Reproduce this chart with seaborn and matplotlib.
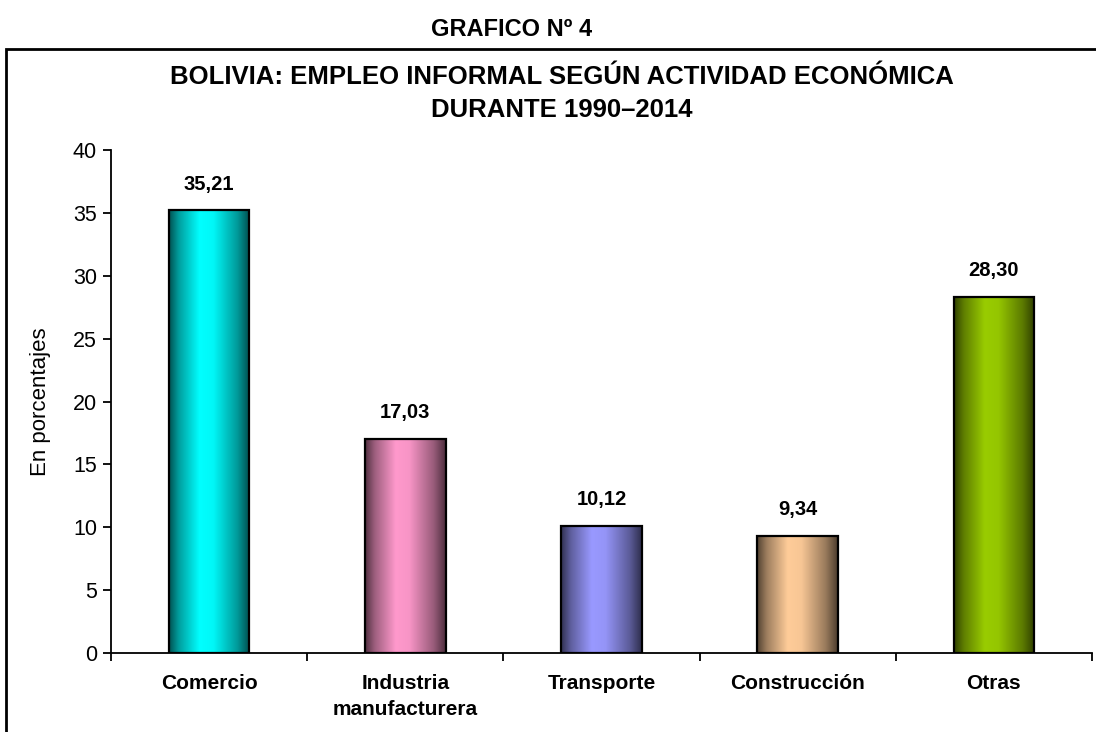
import numpy as np
import pandas as pd
import seaborn as sns
import matplotlib.pyplot as plt
import matplotlib.colors as mcolors
from matplotlib.patches import Rectangle

categorias = ['Comercio', 'Industria\nmanufacturera', 'Transporte', 'Construcción', 'Otras']
porcentajes = [35.21, 17.03, 10.12, 9.34, 28.30]
colores = ['#00FFFF', '#FF99CC', '#9999FF', '#FFCC99', '#99CC00']
yticks = [0, 5, 10, 15, 20, 25, 30, 35, 40]

sns.set_theme(style='white')
plt.rcParams['font.family'] = ['Liberation Sans', 'DejaVu Sans']
for k in ['text.color', 'axes.labelcolor', 'xtick.color', 'ytick.color']:
    plt.rcParams[k] = 'black'

df = pd.DataFrame({'Actividad': categorias, 'Porcentaje': porcentajes})

fig = plt.figure(figsize=(10.96, 7.32), dpi=100)
ax = fig.add_axes([111 / 1096, 1 - 653 / 732, (1092 - 111) / 1096, (653 - 150) / 732])

sns.barplot(data=df, x='Actividad', y='Porcentaje', hue='Actividad', palette=colores,
            legend=False, width=0.41, edgecolor='black', linewidth=1.6, ax=ax)

# sombreado tipo cilindro dentro de cada barra
t = np.linspace(0, 1, 200)
perfil = np.interp(t, [0, 0.12, 0.38, 0.55, 0.85, 1.0], [0.32, 0.62, 1.0, 0.97, 0.6, 0.3])
for patch, col in zip(ax.patches, colores):
    rgb = np.array(mcolors.to_rgb(col))
    img = (perfil[:, None] * rgb[None, :])[None, :, :]
    x0, w, h = patch.get_x(), patch.get_width(), patch.get_height()
    im = ax.imshow(img, extent=[x0, x0 + w, 0, h], aspect='auto', zorder=2, interpolation='bilinear')
    im.set_clip_path(patch)
    patch.set_facecolor('none')
    patch.set_zorder(3)

for cont in ax.containers:
    etiquetas = [f'{b.get_height():.2f}'.replace('.', ',') for b in cont]
    ax.bar_label(cont, labels=etiquetas, padding=12, fontsize=14.5, fontweight='bold')

ax.set_xlim(-0.5, 4.5)
ax.set_ylim(0, 40)
ax.set_yticks(yticks)
ax.set_xticks(range(len(categorias)))
ax.set_xticklabels(categorias, fontsize=15, fontweight='bold', linespacing=1.45)
ax.set_xticks(np.arange(-0.5, 5, 1), minor=True)
ax.tick_params(axis='x', which='major', length=0, pad=15)
ax.tick_params(axis='x', which='minor', length=6, width=1.3, color='black', direction='out', bottom=True)
ax.tick_params(axis='y', length=6, width=1.3, color='black', direction='out', left=True, labelsize=15.5, pad=4)
ax.set_xlabel('')
ax.set_ylabel('En porcentajes', fontsize=16, labelpad=16)
for s in ['top', 'right']:
    ax.spines[s].set_visible(False)
for s in ['left', 'bottom']:
    ax.spines[s].set_color('black')
    ax.spines[s].set_linewidth(1.3)

fig.text(512 / 1096, 1 - 30 / 732, 'GRAFICO Nº 4', ha='center', va='center', fontsize=17, fontweight='bold')
fig.text(562 / 1096, 1 - 77 / 732, 'BOLIVIA: EMPLEO INFORMAL SEGÚN ACTIVIDAD ECONÓMICA',
         ha='center', va='center', fontsize=18.5, fontweight='bold')
fig.text(562 / 1096, 1 - 110 / 732, 'DURANTE 1990–2014', ha='center', va='center', fontsize=18.5, fontweight='bold')

fig.patches.append(Rectangle((6 / 1096, -0.1), 1.2, 1 - 49 / 732 + 0.1, transform=fig.transFigure,
                             fill=False, edgecolor='black', linewidth=2))

fig.savefig('out.png', dpi=100)
